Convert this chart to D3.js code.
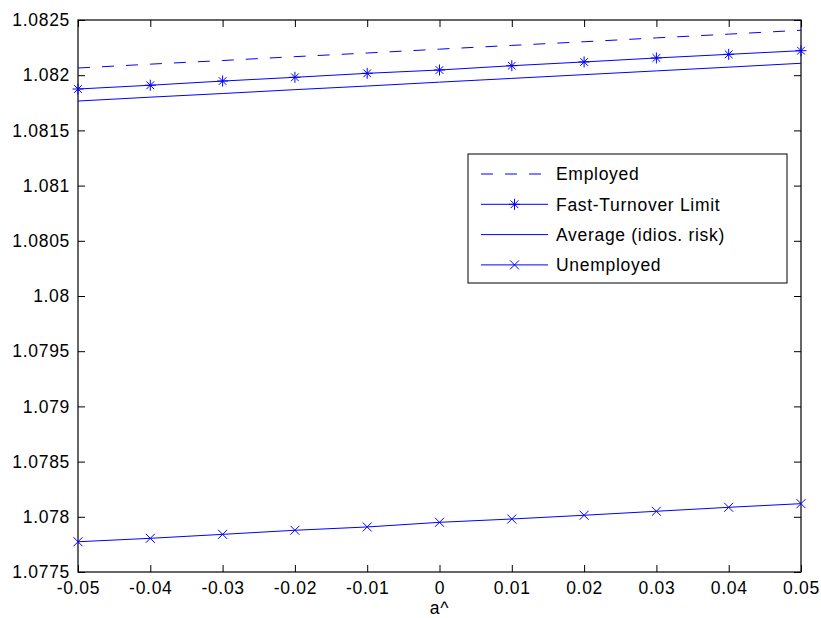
<!DOCTYPE html>
<html>
<head>
<meta charset="utf-8">
<script src="https://cdn.jsdelivr.net/npm/d3@7/dist/d3.min.js"></script>
<style>
  body { margin: 0; background: #fff; }
  svg { display: block; }
  text { font-family: "Liberation Sans", Arial, sans-serif; fill: #000; }
</style>
</head>
<body>
<svg id="chart" width="821" height="618"></svg>
<script>
// values
const xValues = [-0.05, -0.04, -0.03, -0.02, -0.01, 0, 0.01, 0.02, 0.03, 0.04, 0.05];
const employed = [1.082065, 1.082100, 1.082133, 1.082168, 1.082201, 1.082236, 1.082270, 1.082303, 1.082338, 1.082372, 1.082407];
const fastTurnover = [1.081875, 1.081909, 1.081947, 1.081981, 1.082017, 1.082047, 1.082086, 1.082120, 1.082156, 1.082189, 1.082222];
const average = [1.081766, 1.081801, 1.081834, 1.081869, 1.081902, 1.081937, 1.081971, 1.082005, 1.082039, 1.082073, 1.082108];
const unemployed = [1.077774, 1.077805, 1.077841, 1.077878, 1.077908, 1.077950, 1.077980, 1.078014, 1.078050, 1.078086, 1.078119];

const xTicks = [-0.05, -0.04, -0.03, -0.02, -0.01, 0, 0.01, 0.02, 0.03, 0.04, 0.05];
const xTickLabels = ['-0.05', '-0.04', '-0.03', '-0.02', '-0.01', '0', '0.01', '0.02', '0.03', '0.04', '0.05'];
const yTicks = [1.0775, 1.078, 1.0785, 1.079, 1.0795, 1.08, 1.0805, 1.081, 1.0815, 1.082, 1.0825];
const yTickLabels = ['1.0775', '1.078', '1.0785', '1.079', '1.0795', '1.08', '1.0805', '1.081', '1.0815', '1.082', '1.0825'];
const seriesNames = ['Employed', 'Fast-Turnover Limit', 'Average (idios. risk)', 'Unemployed'];

const axL = 78, axR = 801, axT = 20, axB = 572;
const blue = '#0000ff';

const svg = d3.select('#chart');
const x = d3.scaleLinear().domain([-0.05, 0.05]).range([axL, axR]);
const y = d3.scaleLinear().domain([1.0775, 1.0825]).range([axB, axT]);

const fmtX = d => xTickLabels[xTicks.findIndex(t => Math.abs(t - d) < 1e-9)];
const fmtY = d => yTickLabels[yTicks.findIndex(t => Math.abs(t - d) < 1e-9)];

// axes, MATLAB style: ticks inside on all four sides
function styleAxis(g) {
  g.select('.domain').remove();
  g.selectAll('.tick line').attr('stroke', '#000').attr('stroke-width', 1);
  g.selectAll('text').style('font-size', '17.5px').style('letter-spacing', '0.7px');
}
svg.append('g').attr('transform', `translate(0,${axB})`)
  .call(d3.axisBottom(x).tickValues(xTicks).tickFormat(fmtX).tickSize(-7).tickPadding(10))
  .call(styleAxis);
svg.append('g').attr('transform', `translate(0,${axT})`)
  .call(d3.axisTop(x).tickValues(xTicks).tickFormat('').tickSize(-7))
  .call(styleAxis);
svg.append('g').attr('transform', `translate(${axL},0)`)
  .call(d3.axisLeft(y).tickValues(yTicks).tickFormat(fmtY).tickSize(-7).tickPadding(8))
  .call(styleAxis);
svg.append('g').attr('transform', `translate(${axR},0)`)
  .call(d3.axisRight(y).tickValues(yTicks).tickFormat('').tickSize(-7))
  .call(styleAxis);

svg.append('rect')
  .attr('x', axL).attr('y', axT)
  .attr('width', axR - axL).attr('height', axB - axT)
  .attr('fill', 'none').attr('stroke', '#000').attr('stroke-width', 1.2);

svg.append('text')
  .attr('x', (axL + axR) / 2).attr('y', 614)
  .attr('text-anchor', 'middle')
  .style('font-size', '17.5px').style('letter-spacing', '0.7px')
  .text('a^');

// markers
const star = (g, cx, cy) => {
  const r = 5.5;
  g.append('path')
    .attr('d', `M${cx - r},${cy}H${cx + r}M${cx},${cy - r}V${cy + r}` +
      `M${cx - r * 0.7},${cy - r * 0.7}L${cx + r * 0.7},${cy + r * 0.7}` +
      `M${cx - r * 0.7},${cy + r * 0.7}L${cx + r * 0.7},${cy - r * 0.7}`)
    .attr('stroke', blue).attr('stroke-width', 1).attr('fill', 'none');
};
const cross = (g, cx, cy) => {
  const r = 4.5;
  g.append('path')
    .attr('d', `M${cx - r},${cy - r}L${cx + r},${cy + r}M${cx - r},${cy + r}L${cx + r},${cy - r}`)
    .attr('stroke', blue).attr('stroke-width', 1).attr('fill', 'none');
};

const line = d3.line().x((d, i) => x(xValues[i])).y(d => y(d));
const series = [
  { vals: employed, dash: '12,12', marker: null },
  { vals: fastTurnover, dash: null, marker: star },
  { vals: average, dash: null, marker: null },
  { vals: unemployed, dash: null, marker: cross }
];

const plot = svg.append('g');
series.forEach(s => {
  plot.append('path')
    .attr('d', line(s.vals))
    .attr('fill', 'none').attr('stroke', blue).attr('stroke-width', 1)
    .attr('stroke-dasharray', s.dash);
  if (s.marker) s.vals.forEach((v, i) => s.marker(plot, x(xValues[i]), y(v)));
});

// legend
const lg = svg.append('g');
lg.append('rect')
  .attr('x', 468).attr('y', 154).attr('width', 319).attr('height', 129)
  .attr('fill', '#fff').attr('stroke', '#000').attr('stroke-width', 1);
seriesNames.forEach((name, i) => {
  const ly = 174 + i * 30.3;
  lg.append('line')
    .attr('x1', 481).attr('x2', 548).attr('y1', ly).attr('y2', ly)
    .attr('stroke', blue).attr('stroke-width', 1)
    .attr('stroke-dasharray', series[i].dash);
  if (series[i].marker) series[i].marker(lg, 514.5, ly);
  lg.append('text')
    .attr('x', 556).attr('y', ly).attr('dy', '0.36em')
    .style('font-size', '17.5px').style('letter-spacing', '0.7px')
    .text(name);
});
</script>
</body>
</html>
